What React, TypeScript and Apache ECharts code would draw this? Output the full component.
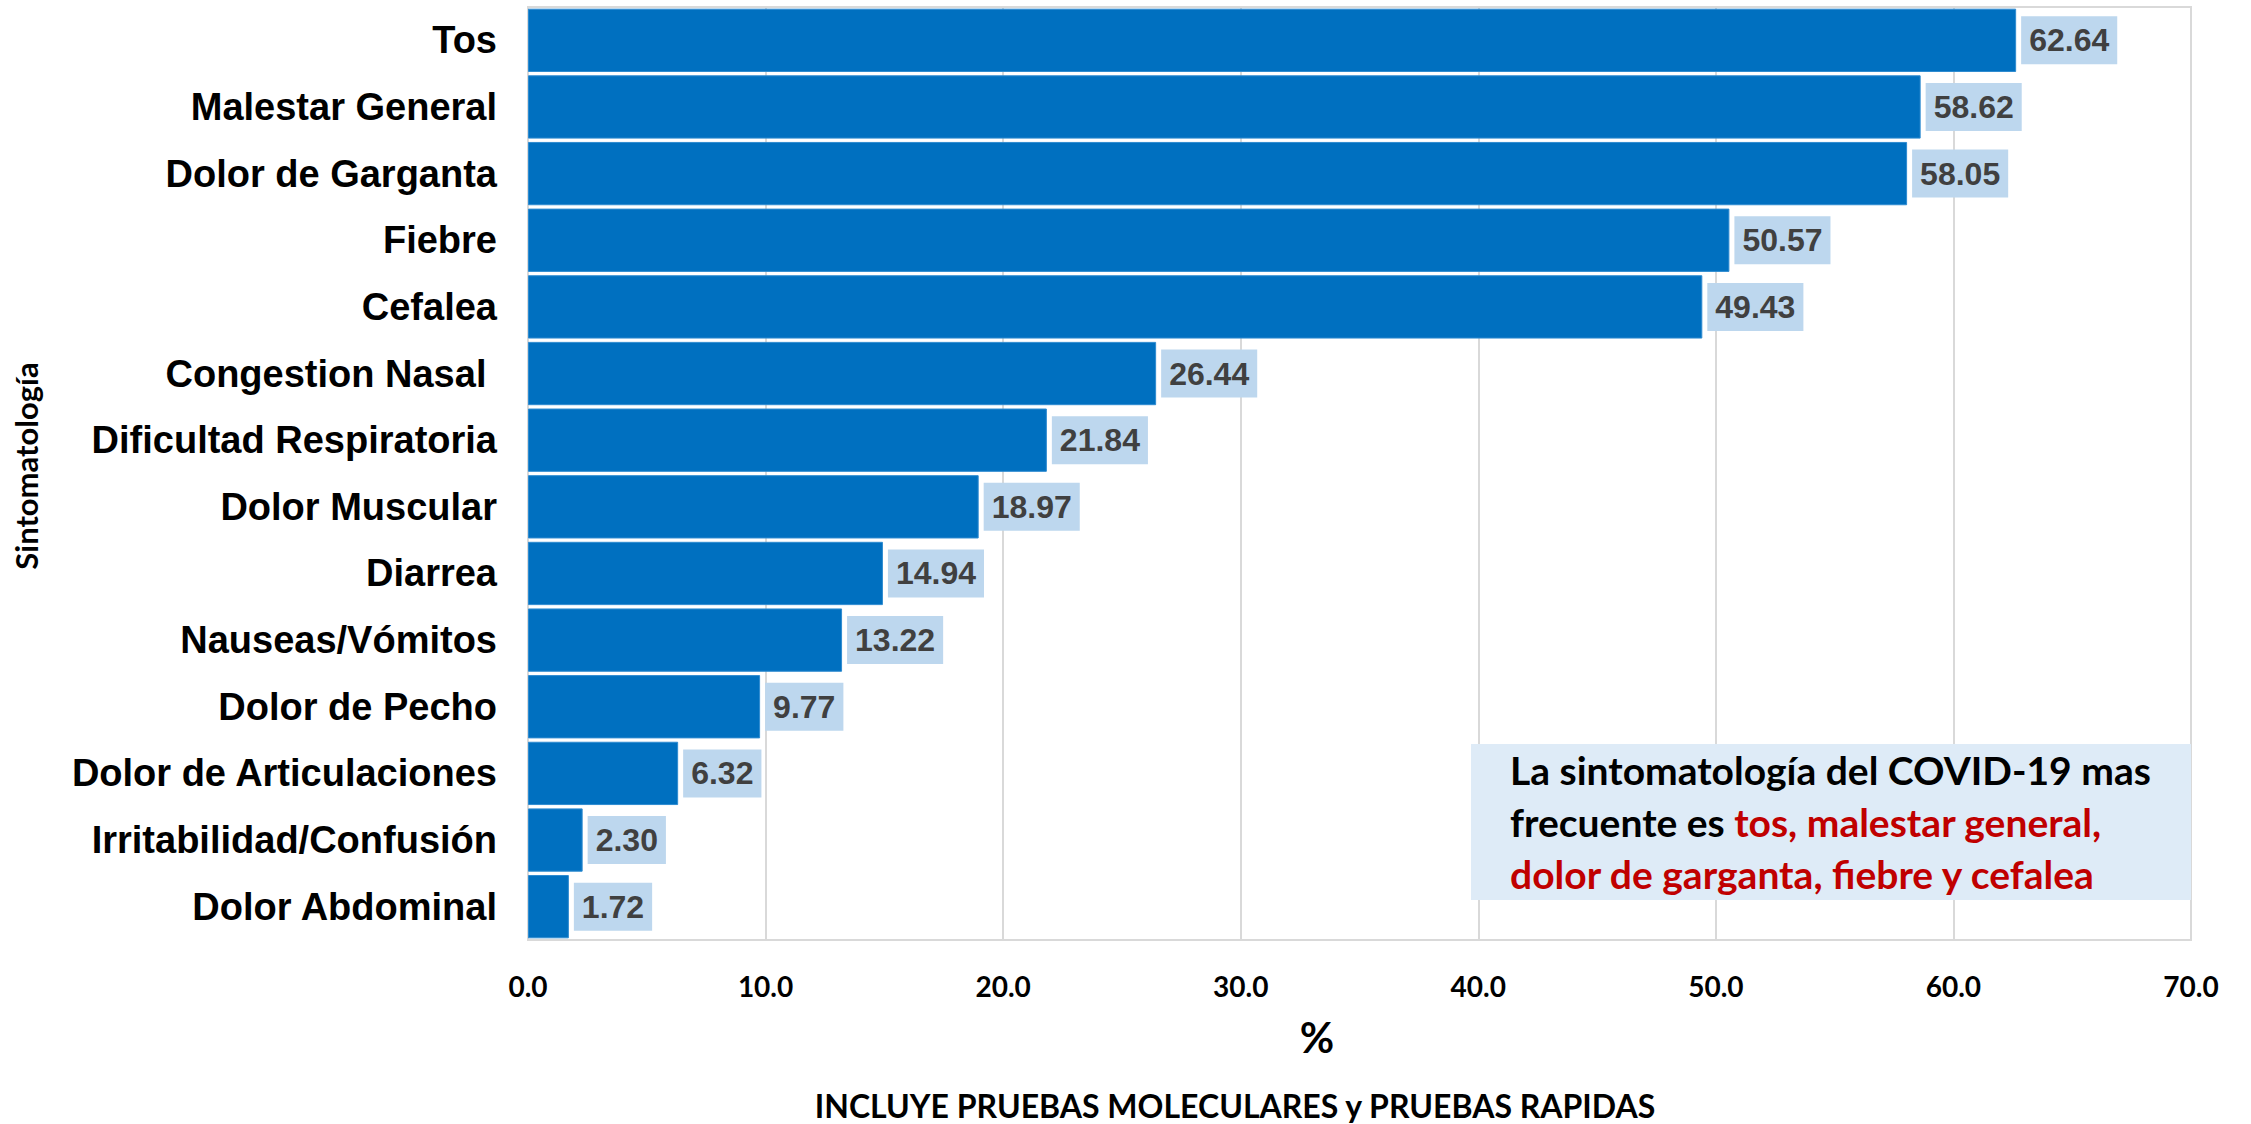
import React, { useEffect, useRef } from "react";
import * as echarts from "echarts";

const categories = [
  "Tos",
  "Malestar General",
  "Dolor de Garganta",
  "Fiebre",
  "Cefalea",
  "Congestion Nasal ",
  "Dificultad Respiratoria",
  "Dolor Muscular",
  "Diarrea",
  "Nauseas/Vómitos",
  "Dolor de Pecho",
  "Dolor de Articulaciones",
  "Irritabilidad/Confusión",
  "Dolor Abdominal",
];
const values = [62.64, 58.62, 58.05, 50.57, 49.43, 26.44, 21.84, 18.97, 14.94, 13.22, 9.77, 6.32, 2.3, 1.72];
const xMin = 0;
const xMax = 70;
const xStep = 10;

export default function App() {
  const ref = useRef<HTMLDivElement>(null);
  useEffect(() => {
    if (!ref.current) return;
    const chart = echarts.init(ref.current, null, { renderer: "svg" });
    chart.setOption({
      animation: false,
      backgroundColor: "#ffffff",
      grid: {
        left: 528,
        right: 60,
        top: 7,
        bottom: 184,
        show: true,
        borderColor: "#D9D9D9",
        borderWidth: 2,
        containLabel: false,
        outerBoundsMode: "none",
      },
      xAxis: {
        type: "value",
        min: xMin,
        max: xMax,
        interval: xStep,
        axisLine: { show: true, lineStyle: { color: "#D9D9D9", width: 2 } },
        axisTick: { show: false },
        splitLine: { show: true, lineStyle: { color: "#D9D9D9", width: 2 } },
        axisLabel: {
          formatter: (v: number) => v.toFixed(1),
          fontFamily: "Lato",
          fontWeight: "bold",
          fontSize: 28,
          color: "#000",
          margin: 32,
        },
      },
      yAxis: {
        type: "category",
        data: categories,
        inverse: true,
        axisLine: { show: false },
        axisTick: { show: false },
        axisLabel: {
          fontFamily: "Liberation Sans",
          fontWeight: "bold",
          fontSize: 38,
          color: "#000",
          margin: 31,
        },
      },
      series: [
        {
          type: "bar",
          data: values,
          barCategoryGap: "5%",
          itemStyle: { color: "#0070C0", borderColor: "#2E8BD0", borderWidth: 1 },
          label: {
            show: true,
            position: "right",
            distance: 5,
            formatter: (p: any) => Number(p.value).toFixed(2),
            fontFamily: "Liberation Sans",
            fontWeight: "bold",
            fontSize: 32,
            color: "#404040",
            backgroundColor: "#BDD7EE",
            padding: [8, 8, 8, 8],
          },
        },
      ],
      graphic: [
        {
          type: "rect",
          shape: { x: 1471, y: 744, width: 720, height: 156 },
          style: { fill: "#DEEBF7" },
          z: 10,
        },
        {
          type: "text",
          x: 1510,
          y: 822,
          z: 11,
          style: {
            text:
              "{b|La sintomatología del COVID-19 mas}\n{b|frecuente es }{r|tos, malestar general,}\n{r|dolor de garganta, fiebre y cefalea}",
            verticalAlign: "middle",
            lineHeight: 52,
            rich: {
              b: { fontFamily: "Lato", fontWeight: "bold", fontSize: 39, fill: "#000000", lineHeight: 52 },
              r: { fontFamily: "Lato", fontWeight: "bold", fontSize: 39, fill: "#C00000", lineHeight: 52 },
            },
          },
        },
        {
          type: "text",
          x: 1317,
          y: 1037,
          style: {
            text: "%",
            fontFamily: "Lato",
            fontWeight: "bold",
            fontSize: 42,
            fill: "#000",
            align: "center",
            verticalAlign: "middle",
          },
        },
        {
          type: "text",
          x: 26,
          y: 466,
          rotation: Math.PI / 2,
          style: {
            text: "Sintomatología",
            fontFamily: "Lato",
            fontWeight: "bold",
            fontSize: 31,
            fill: "#000",
            align: "center",
            verticalAlign: "middle",
          },
        },
        {
          type: "text",
          x: 1235,
          y: 1105,
          style: {
            text: "INCLUYE PRUEBAS MOLECULARES y PRUEBAS RAPIDAS",
            fontFamily: "Lato",
            fontWeight: "bold",
            fontSize: 32,
            fill: "#000",
            align: "center",
            verticalAlign: "middle",
          },
        },
      ],
    });
    return () => chart.dispose();
  }, []);
  return (
    <div
      ref={ref}
      style={{ position: "fixed", left: 0, top: 0, width: 2251, height: 1124 }}
    />
  );
}
